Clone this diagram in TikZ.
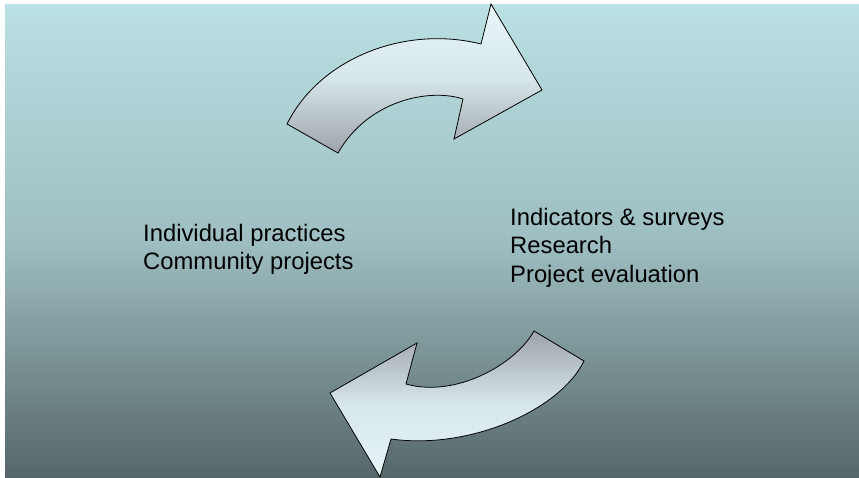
\documentclass[tikz,border=0pt]{standalone}
\usepackage{fontspec}
\setmainfont{Liberation Sans}
\begin{document}
\begin{tikzpicture}[x=1pt,y=-1pt,
  cyclearrow/.style={draw=black,line width=0.8pt,line join=miter},
  downshade/.style={top color=arrowlight,bottom color=arrowdark,middle color=arrowmid},
  upshade/.style={top color=arrowdark,bottom color=arrowlight,middle color=arrowmid},
  label/.style={anchor=north west,inner sep=0pt,align=left,
    font=\fontsize{23.8}{28.3}\selectfont}]
  \definecolor{bgtop}{RGB}{185,224,226}
  \definecolor{bgmid}{RGB}{158,190,193}
  \definecolor{bgbot}{RGB}{86,102,104}
  \definecolor{arrowlight}{RGB}{232,246,248}
  \definecolor{arrowmid}{RGB}{214,230,233}
  \definecolor{arrowdark}{RGB}{158,164,169}
  \useasboundingbox (0,0) rectangle (859,478);
  % background panel
  \shade[top color=bgtop,bottom color=bgbot,middle color=bgmid]
    (5,5) rectangle (859,478);
  % upper curved arrow, pointing right
  \path[cyclearrow,downshade]
    (287,124) .. controls (320,58) and (405,25) .. (481,44)
    -- (491,4) -- (542,90) -- (454,139) -- (463,99)
    .. controls (430,88) and (368,100) .. (338,153) -- cycle;
  % lower curved arrow, pointing left
  \path[cyclearrow,upshade]
    (534,331) -- (584,361)
    .. controls (560,410) and (470,450) .. (391,439)
    -- (380,477) -- (330,393) -- (417,343) -- (406,384)
    .. controls (455,398) and (515,365) .. (534,331) -- cycle;
  % labels
  \node[label] (act) at (143,224) {Individual practices\\Community projects};
  \node[label] (eval) at (510,208) {Indicators \& surveys\\Research\\Project evaluation};
\end{tikzpicture}
\end{document}
